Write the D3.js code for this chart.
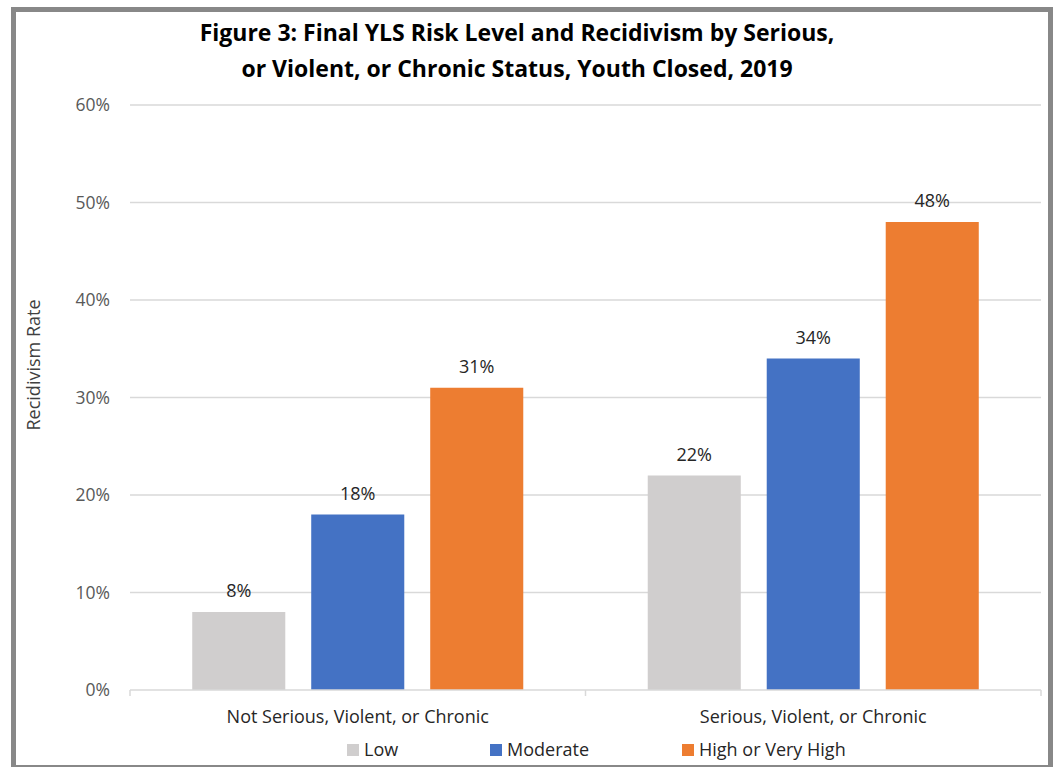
<!DOCTYPE html>
<html><head><meta charset="utf-8">
<script src="https://cdn.jsdelivr.net/npm/d3@7"></script>
<style>body{margin:0;background:#fff}svg{display:block}</style>
</head><body>
<svg id="c" width="1058" height="767"></svg>
<script>
const categories = ["Not Serious, Violent, or Chronic", "Serious, Violent, or Chronic"];
const seriesNames = ["Low", "Moderate", "High or Very High"];
const lowValues = [8, 22];
const moderateValues = [18, 34];
const highValues = [31, 48];
const yTicks = [0, 10, 20, 30, 40, 50, 60];
const colors = ["#D0CECE", "#4472C4", "#ED7D31"];
const titleLines = ["Figure 3: Final YLS Risk Level and Recidivism by Serious,", "or Violent, or Chronic Status, Youth Closed, 2019"];

(function () {
const seriesValues = [lowValues, moderateValues, highValues];
const svg = d3.select("#c");
const ff = "'Open Sans', sans-serif";

// frame
svg.append("rect").attr("x", 13.5).attr("y", 9.5).attr("width", 1037).attr("height", 758)
  .attr("fill", "none").attr("stroke", "#888").attr("stroke-width", 5);

const pLeft = 130, pRight = 1041, pTop = 105, pBottom = 690;
const y = d3.scaleLinear().domain([0, 60]).range([pBottom, pTop]);
const x0 = d3.scaleBand().domain(categories).range([pLeft, pRight]).padding(0);
const x1 = d3.scaleBand().domain(seriesNames).range([0, x0.bandwidth()]).paddingInner(0.218).paddingOuter(0.523);

// gridlines
svg.append("g").selectAll("line").data(yTicks.filter(d => d > 0)).join("line")
  .attr("x1", pLeft).attr("x2", pRight).attr("y1", d => y(d)).attr("y2", d => y(d))
  .attr("stroke", "#D9D9D9").attr("stroke-width", 1.5);

// y tick labels
svg.append("g").selectAll("text").data(yTicks).join("text")
  .attr("x", 110).attr("y", d => y(d)).attr("dy", "0.35em").attr("text-anchor", "end")
  .attr("font-family", ff).attr("font-size", 17.5).attr("fill", "#595959")
  .text(d => d + "%");

// bars
const groups = svg.append("g").selectAll("g").data(categories).join("g")
  .attr("transform", c => `translate(${x0(c)},0)`);
const rows = (c, ci) => seriesNames.map((s, si) => ({s, si, v: seriesValues[si][ci]}));
groups.selectAll("rect").data(rows).join("rect")
  .attr("x", d => x1(d.s)).attr("width", x1.bandwidth())
  .attr("y", d => y(d.v)).attr("height", d => y(0) - y(d.v))
  .attr("fill", d => colors[d.si]);
groups.selectAll("text").data(rows).join("text")
  .attr("x", d => x1(d.s) + x1.bandwidth() / 2).attr("y", d => y(d.v) - 21).attr("dy", "0.35em")
  .attr("text-anchor", "middle").attr("font-family", ff).attr("font-size", 18)
  .attr("fill", "#262626").text(d => d.v + "%");

// x axis
const ax = svg.append("g").attr("stroke", "#D9D9D9").attr("stroke-width", 1.5);
ax.append("line").attr("x1", pLeft).attr("x2", pRight).attr("y1", pBottom).attr("y2", pBottom);
[pLeft, x0(categories[1]), pRight].forEach(xx => ax.append("line").attr("x1", xx).attr("x2", xx).attr("y1", pBottom).attr("y2", pBottom + 6));

svg.append("g").selectAll("text").data(categories).join("text")
  .attr("x", c => x0(c) + x0.bandwidth() / 2).attr("y", 717).attr("dy", "0.35em")
  .attr("text-anchor", "middle").attr("font-family", ff).attr("font-size", 18)
  .attr("fill", "#262626").text(c => c);

// y axis title
svg.append("text").attr("transform", "translate(34,365) rotate(-90)").attr("text-anchor", "middle")
  .attr("dy", "0.35em").attr("font-family", ff).attr("font-size", 18).attr("fill", "#404040")
  .text("Recidivism Rate");

// title
svg.append("g").selectAll("text").data(titleLines).join("text")
  .attr("x", 517).attr("y", (d, i) => 33 + i * 36).attr("dy", "0.35em").attr("text-anchor", "middle")
  .attr("font-family", ff).attr("font-weight", "bold")
  .attr("font-size", 23).attr("fill", "#000").text(d => d);

// legend
const legendX = [347, 490, 682];
const lg = svg.append("g").selectAll("g").data(seriesNames).join("g")
  .attr("transform", (d, i) => `translate(${legendX[i]},750)`);
lg.append("rect").attr("x", 0).attr("y", -6).attr("width", 12).attr("height", 12).attr("fill", (d, i) => colors[i]);
lg.append("text").attr("x", 17).attr("y", 0).attr("dy", "0.35em").attr("font-family", ff)
  .attr("font-size", 18).attr("fill", "#262626").text(d => d);
})();
</script>
</body></html>
